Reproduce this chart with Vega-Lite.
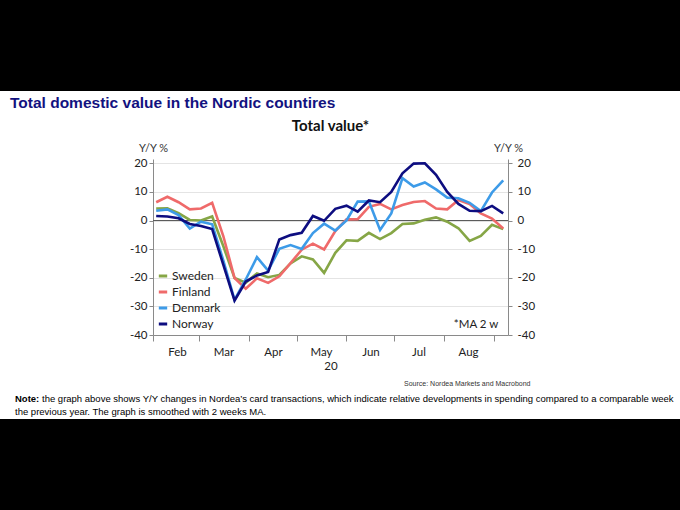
{
  "$schema": "https://vega.github.io/schema/vega-lite/v6.json",
  "padding": 0,
  "background": "white",
  "config": {
    "font": "Lato",
    "view": {"stroke": null},
    "concat": {"spacing": 0}
  },
  "datasets": {
    "empty": [],
    "zero": [{"ref": "zero line"}],
    "note": [{"label": "*MA 2 w"}],
    "weekly": [
      {"date":"2020-02-03","country":"Sweden","value":4.2},{"date":"2020-02-10","country":"Sweden","value":4.3},{"date":"2020-02-17","country":"Sweden","value":2.6},{"date":"2020-02-24","country":"Sweden","value":0.2},{"date":"2020-03-02","country":"Sweden","value":0.0},{"date":"2020-03-09","country":"Sweden","value":1.4},{"date":"2020-03-16","country":"Sweden","value":-9.0},{"date":"2020-03-23","country":"Sweden","value":-20.1},{"date":"2020-03-30","country":"Sweden","value":-21.7},{"date":"2020-04-06","country":"Sweden","value":-18.5},{"date":"2020-04-13","country":"Sweden","value":-19.8},{"date":"2020-04-20","country":"Sweden","value":-19.0},{"date":"2020-04-27","country":"Sweden","value":-15.0},{"date":"2020-05-04","country":"Sweden","value":-12.5},{"date":"2020-05-11","country":"Sweden","value":-13.6},{"date":"2020-05-18","country":"Sweden","value":-18.3},{"date":"2020-05-25","country":"Sweden","value":-11.3},{"date":"2020-06-01","country":"Sweden","value":-6.9},{"date":"2020-06-08","country":"Sweden","value":-7.1},{"date":"2020-06-15","country":"Sweden","value":-4.3},{"date":"2020-06-22","country":"Sweden","value":-6.5},{"date":"2020-06-29","country":"Sweden","value":-4.4},{"date":"2020-07-06","country":"Sweden","value":-1.2},{"date":"2020-07-13","country":"Sweden","value":-1.0},{"date":"2020-07-20","country":"Sweden","value":0.3},{"date":"2020-07-27","country":"Sweden","value":1.1},{"date":"2020-08-03","country":"Sweden","value":-0.4},{"date":"2020-08-10","country":"Sweden","value":-2.7},{"date":"2020-08-17","country":"Sweden","value":-7.1},{"date":"2020-08-24","country":"Sweden","value":-5.4},{"date":"2020-08-31","country":"Sweden","value":-1.5},{"date":"2020-09-07","country":"Sweden","value":-3.0},
      {"date":"2020-02-03","country":"Finland","value":6.4},{"date":"2020-02-10","country":"Finland","value":8.3},{"date":"2020-02-17","country":"Finland","value":6.4},{"date":"2020-02-24","country":"Finland","value":3.9},{"date":"2020-03-02","country":"Finland","value":4.2},{"date":"2020-03-09","country":"Finland","value":6.2},{"date":"2020-03-16","country":"Finland","value":-5.5},{"date":"2020-03-23","country":"Finland","value":-20.1},{"date":"2020-03-30","country":"Finland","value":-23.8},{"date":"2020-04-06","country":"Finland","value":-20.2},{"date":"2020-04-13","country":"Finland","value":-21.8},{"date":"2020-04-20","country":"Finland","value":-19.5},{"date":"2020-04-27","country":"Finland","value":-14.9},{"date":"2020-05-04","country":"Finland","value":-10.2},{"date":"2020-05-11","country":"Finland","value":-8.1},{"date":"2020-05-18","country":"Finland","value":-10.1},{"date":"2020-05-25","country":"Finland","value":-3.7},{"date":"2020-06-01","country":"Finland","value":0.4},{"date":"2020-06-08","country":"Finland","value":0.5},{"date":"2020-06-15","country":"Finland","value":4.8},{"date":"2020-06-22","country":"Finland","value":5.8},{"date":"2020-06-29","country":"Finland","value":3.9},{"date":"2020-07-06","country":"Finland","value":5.4},{"date":"2020-07-13","country":"Finland","value":6.5},{"date":"2020-07-20","country":"Finland","value":6.8},{"date":"2020-07-27","country":"Finland","value":4.2},{"date":"2020-08-03","country":"Finland","value":3.9},{"date":"2020-08-10","country":"Finland","value":7.2},{"date":"2020-08-17","country":"Finland","value":5.8},{"date":"2020-08-24","country":"Finland","value":2.5},{"date":"2020-08-31","country":"Finland","value":0.7},{"date":"2020-09-07","country":"Finland","value":-2.8},
      {"date":"2020-02-03","country":"Denmark","value":3.4},{"date":"2020-02-10","country":"Denmark","value":3.9},{"date":"2020-02-17","country":"Denmark","value":1.9},{"date":"2020-02-24","country":"Denmark","value":-2.8},{"date":"2020-03-02","country":"Denmark","value":-0.4},{"date":"2020-03-09","country":"Denmark","value":-1.3},{"date":"2020-03-16","country":"Denmark","value":-14.0},{"date":"2020-03-23","country":"Denmark","value":-27.7},{"date":"2020-03-30","country":"Denmark","value":-20.6},{"date":"2020-04-06","country":"Denmark","value":-12.8},{"date":"2020-04-13","country":"Denmark","value":-17.5},{"date":"2020-04-20","country":"Denmark","value":-9.9},{"date":"2020-04-27","country":"Denmark","value":-8.6},{"date":"2020-05-04","country":"Denmark","value":-9.9},{"date":"2020-05-11","country":"Denmark","value":-4.4},{"date":"2020-05-18","country":"Denmark","value":-1.1},{"date":"2020-05-25","country":"Denmark","value":-3.5},{"date":"2020-06-01","country":"Denmark","value":0.0},{"date":"2020-06-08","country":"Denmark","value":6.6},{"date":"2020-06-15","country":"Denmark","value":6.7},{"date":"2020-06-22","country":"Denmark","value":-3.3},{"date":"2020-06-29","country":"Denmark","value":2.5},{"date":"2020-07-06","country":"Denmark","value":14.8},{"date":"2020-07-13","country":"Denmark","value":11.9},{"date":"2020-07-20","country":"Denmark","value":13.3},{"date":"2020-07-27","country":"Denmark","value":10.9},{"date":"2020-08-03","country":"Denmark","value":8.0},{"date":"2020-08-10","country":"Denmark","value":7.8},{"date":"2020-08-17","country":"Denmark","value":6.2},{"date":"2020-08-24","country":"Denmark","value":3.3},{"date":"2020-08-31","country":"Denmark","value":9.8},{"date":"2020-09-07","country":"Denmark","value":14.0},
      {"date":"2020-02-03","country":"Norway","value":1.6},{"date":"2020-02-10","country":"Norway","value":1.4},{"date":"2020-02-17","country":"Norway","value":0.8},{"date":"2020-02-24","country":"Norway","value":-1.2},{"date":"2020-03-02","country":"Norway","value":-1.9},{"date":"2020-03-09","country":"Norway","value":-3.0},{"date":"2020-03-16","country":"Norway","value":-15.5},{"date":"2020-03-23","country":"Norway","value":-28.0},{"date":"2020-03-30","country":"Norway","value":-21.3},{"date":"2020-04-06","country":"Norway","value":-19.2},{"date":"2020-04-13","country":"Norway","value":-18.0},{"date":"2020-04-20","country":"Norway","value":-6.6},{"date":"2020-04-27","country":"Norway","value":-5.1},{"date":"2020-05-04","country":"Norway","value":-4.3},{"date":"2020-05-11","country":"Norway","value":1.6},{"date":"2020-05-18","country":"Norway","value":-0.1},{"date":"2020-05-25","country":"Norway","value":4.1},{"date":"2020-06-01","country":"Norway","value":5.2},{"date":"2020-06-08","country":"Norway","value":3.1},{"date":"2020-06-15","country":"Norway","value":7.0},{"date":"2020-06-22","country":"Norway","value":6.4},{"date":"2020-06-29","country":"Norway","value":10.0},{"date":"2020-07-06","country":"Norway","value":16.5},{"date":"2020-07-13","country":"Norway","value":19.9},{"date":"2020-07-20","country":"Norway","value":20.0},{"date":"2020-07-27","country":"Norway","value":16.0},{"date":"2020-08-03","country":"Norway","value":10.0},{"date":"2020-08-10","country":"Norway","value":5.8},{"date":"2020-08-17","country":"Norway","value":3.4},{"date":"2020-08-24","country":"Norway","value":3.3},{"date":"2020-08-31","country":"Norway","value":5.1},{"date":"2020-09-07","country":"Norway","value":2.5}
    ]
  },
  "columns": 3,
  "align": "each",
  "bounds": "flush",
  "spacing": 0,
  "resolve": {"scale": {"color": "independent"}, "legend": {"color": "independent"}},
  "concat": [
    {"width": 153, "height": 91, "data": {"name": "empty"}, "mark": "point", "encoding": {}, "view": {"fill": "#000000", "stroke": null}},
    {"width": 355, "height": 91, "data": {"name": "empty"}, "mark": "point", "encoding": {}, "view": {"fill": "#000000", "stroke": null}},
    {"width": 172, "height": 91, "data": {"name": "empty"}, "mark": "point", "encoding": {}, "view": {"fill": "#000000", "stroke": null}},

    {"width": 153, "height": 68, "data": {"name": "empty"}, "mark": "point", "encoding": {},
     "title": {"text": "Total domestic value in the Nordic countires", "orient": "top", "anchor": "start", "frame": "group", "baseline": "top", "offset": 0, "dx": 10, "dy": 20, "font": "Liberation Sans", "fontSize": 15.5, "fontWeight": "bold", "color": "#12127f"}},
    {"width": 355, "height": 68, "data": {"name": "empty"}, "mark": "point", "encoding": {}},
    {"width": 172, "height": 68, "data": {"name": "empty"}, "mark": "point", "encoding": {}},

    {"width": 153, "height": 176, "data": {"name": "empty"}, "mark": "point", "encoding": {}},
    {"width": 355, "height": 176,
     "title": {"text": "Total value*", "anchor": "middle", "frame": "group", "baseline": "bottom", "offset": 9, "dy": 16, "font": "Lato", "fontSize": 15, "fontWeight": "bold", "color": "#111111"},
     "layer": [
       {"data": {"name": "zero"},
        "mark": {"type": "rule", "color": "#5a5a5a", "strokeWidth": 1},
        "encoding": {"y": {"datum": 0, "type": "quantitative", "scale": {"domain": [-40, 21.5], "nice": false},
          "axis": {"orient": "right", "values": [-40, -30, -20, -10, 0, 10, 20], "grid": false, "domainColor": "#8a8a8a", "tickColor": "#8a8a8a", "tickSize": 4, "labelFontSize": 11.5, "labelColor": "#222222", "labelPadding": 5, "labelExpr": "'' + datum.value", "title": "Y/Y %", "titleAngle": 0, "titleX": 0, "titleY": -11, "titleAlign": "center", "titleBaseline": "middle", "titleFontWeight": "normal", "titleFontSize": 11, "titleColor": "#333333"}}}},
       {"data": {"name": "weekly"},
        "mark": {"type": "line", "strokeWidth": 2.6},
        "encoding": {
          "x": {"field": "date", "type": "temporal",
            "scale": {"type": "utc", "domain": [{"year": 2020, "month": 2, "date": 1, "utc": true}, {"year": 2020, "month": 9, "date": 10, "utc": true}]},
            "axis": {"orient": "bottom", "tickCount": {"interval": "month", "step": 1}, "grid": false, "domainColor": "#8a8a8a", "tickColor": "#8a8a8a", "tickSize": 6, "labelOffset": 24, "labelAlign": "center", "labelFlush": false, "labelOverlap": false, "labelExpr": "utcmonth(datum.value) == 8 ? '' : utcFormat(datum.value, '%b')", "labelFontSize": 11.5, "labelColor": "#222222", "labelPadding": 5, "title": "20", "titleFontWeight": "normal", "titleFontSize": 11.5, "titleColor": "#222222", "titlePadding": 3}},
          "y": {"field": "value", "type": "quantitative", "scale": {"domain": [-40, 21.5], "nice": false},
            "axis": {"orient": "left", "values": [-40, -30, -20, -10, 0, 10, 20], "grid": true, "gridColor": "#e4e4e4", "domainColor": "#8a8a8a", "tickColor": "#8a8a8a", "tickSize": 4, "labelFontSize": 11.5, "labelColor": "#222222", "labelPadding": 2, "labelExpr": "'' + datum.value", "title": "Y/Y %", "titleAngle": 0, "titleX": 0, "titleY": -11, "titleAlign": "center", "titleBaseline": "middle", "titleFontWeight": "normal", "titleFontSize": 11, "titleColor": "#333333"}},
          "color": {"field": "country", "type": "nominal",
            "scale": {"domain": ["Sweden", "Finland", "Denmark", "Norway"], "range": ["#86a646", "#ef6a6a", "#3d9be8", "#0d0d80"]},
            "legend": {"orient": "none", "legendX": 4, "legendY": 111, "title": null, "padding": 0, "symbolType": "stroke", "symbolStrokeWidth": 3, "symbolSize": 70, "labelFontSize": 12, "labelColor": "#222222", "rowPadding": 4, "labelOffset": 3}}
        }},
       {"data": {"name": "note"},
        "mark": {"type": "text", "fontSize": 11.5, "color": "#222222"},
        "encoding": {
          "x": {"datum": {"year": 2020, "month": 8, "date": 21, "utc": true}, "type": "temporal"},
          "y": {"datum": -36.5, "type": "quantitative", "axis": null},
          "text": {"field": "label", "type": "nominal"}}}
     ],
     "resolve": {"axis": {"y": "independent"}}},
    {"width": 172, "height": 176, "data": {"name": "empty"}, "mark": "point", "encoding": {}},

    {"width": 153, "height": 44, "data": {"name": "empty"}, "mark": "point", "encoding": {}},
    {"width": 355, "height": 44, "data": {"name": "empty"}, "mark": "point", "encoding": {}},
    {"width": 172, "height": 44, "data": {"name": "empty"}, "mark": "point", "encoding": {}},

    {"width": 153, "height": 13, "data": {"name": "empty"}, "mark": "point", "encoding": {}},
    {"width": 355, "height": 13, "data": {"name": "empty"}, "mark": "point", "encoding": {},
     "title": {"text": "Source: Nordea Markets and Macrobond", "orient": "top", "anchor": "end", "frame": "group", "baseline": "top", "offset": 0, "dx": 22.5, "dy": 7.5, "font": "Liberation Sans", "fontSize": 7, "fontWeight": "normal", "color": "#333333"}},
    {"width": 172, "height": 13, "data": {"name": "empty"}, "mark": "point", "encoding": {}},

    {"width": 153, "height": 13, "data": {"name": "empty"}, "mark": "point", "encoding": {},
     "title": {"text": "Note:", "orient": "top", "anchor": "start", "frame": "group", "baseline": "top", "offset": 0, "dx": 15, "dy": 11, "font": "Liberation Sans", "fontSize": 9.5, "fontWeight": "bold", "color": "#000000"}},
    {"width": 355, "height": 13, "data": {"name": "empty"}, "mark": "point", "encoding": {},
     "title": {"text": "the graph above shows Y/Y changes in Nordea’s card transactions, which indicate relative developments in spending compared to a comparable week", "orient": "top", "anchor": "start", "frame": "group", "baseline": "top", "offset": 0, "dx": -111, "dy": 11, "font": "Liberation Sans", "fontSize": 9.5, "fontWeight": "normal", "color": "#000000"}},
    {"width": 172, "height": 13, "data": {"name": "empty"}, "mark": "point", "encoding": {}},

    {"width": 153, "height": 14, "data": {"name": "empty"}, "mark": "point", "encoding": {},
     "title": {"text": "the previous year. The graph is smoothed with 2 weeks MA.", "orient": "top", "anchor": "start", "frame": "group", "baseline": "top", "offset": 0, "dx": 15, "dy": 11, "font": "Liberation Sans", "fontSize": 9.5, "fontWeight": "normal", "color": "#000000"}},
    {"width": 355, "height": 14, "data": {"name": "empty"}, "mark": "point", "encoding": {}},
    {"width": 172, "height": 14, "data": {"name": "empty"}, "mark": "point", "encoding": {}},

    {"width": 153, "height": 91, "data": {"name": "empty"}, "mark": "point", "encoding": {}, "view": {"fill": "#000000", "stroke": null}},
    {"width": 355, "height": 91, "data": {"name": "empty"}, "mark": "point", "encoding": {}, "view": {"fill": "#000000", "stroke": null}},
    {"width": 172, "height": 91, "data": {"name": "empty"}, "mark": "point", "encoding": {}, "view": {"fill": "#000000", "stroke": null}}
  ]
}
